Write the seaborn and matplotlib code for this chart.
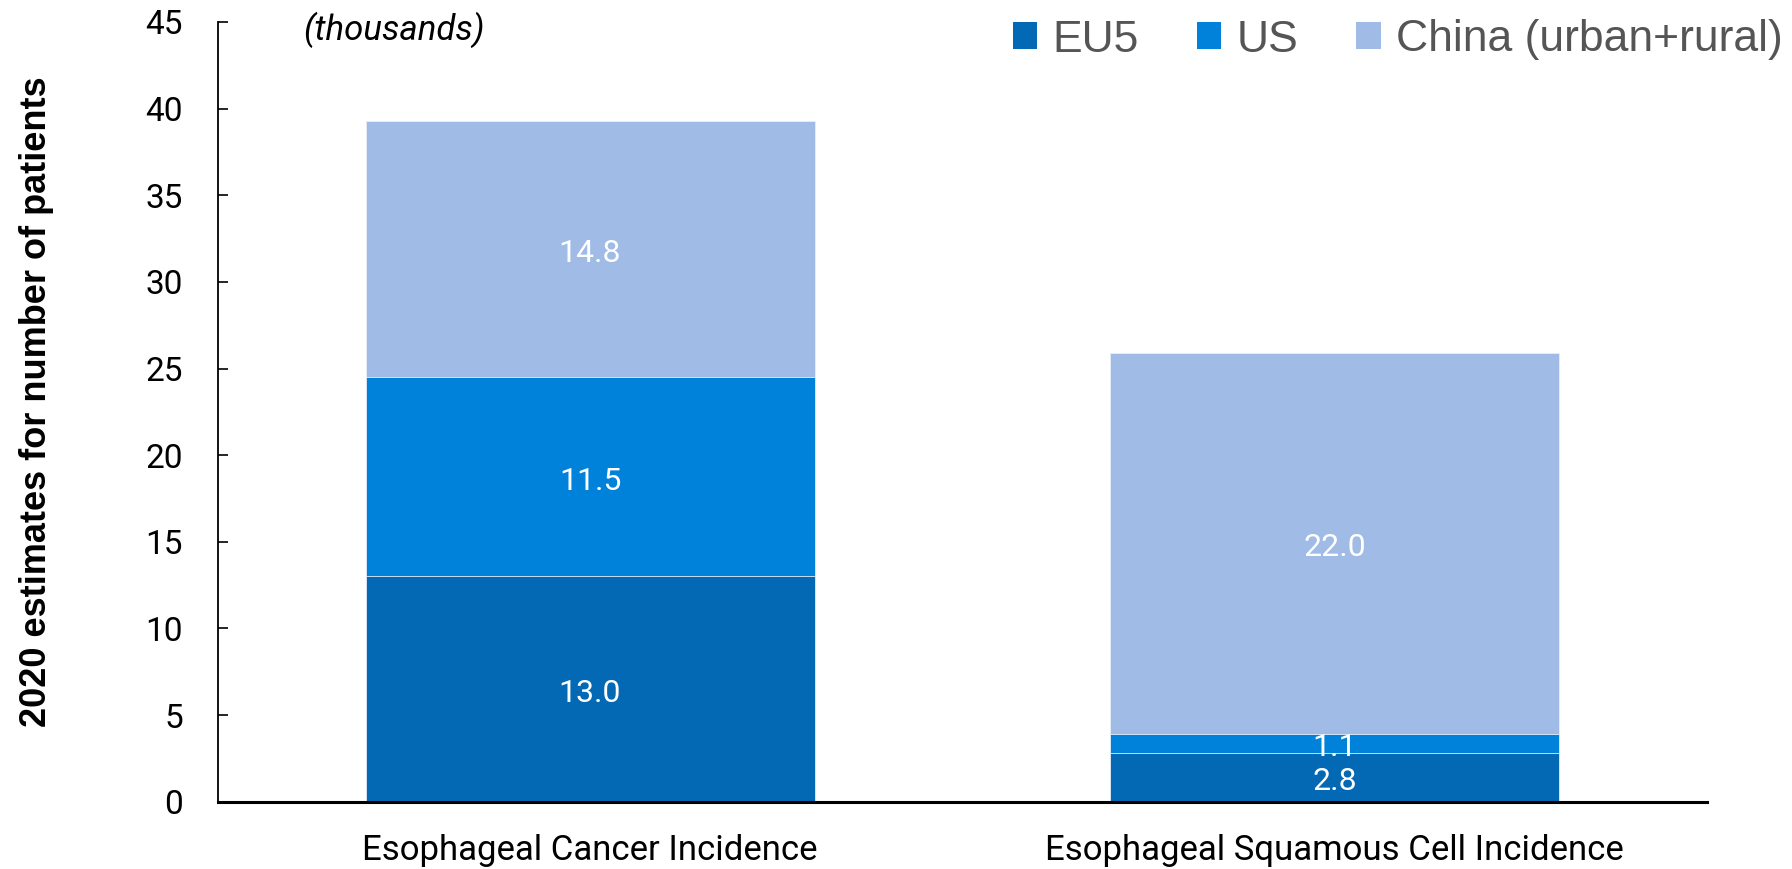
import matplotlib
matplotlib.use('Agg')
import matplotlib.pyplot as plt
import seaborn as sns
import pandas as pd
from matplotlib.patches import Patch

# ---- data ----
categories = ['Esophageal Cancer Incidence', 'Esophageal Squamous Cell Incidence']
series_names = ['EU5', 'US', 'China (urban+rural)']
eu5 = [13.0, 2.8]
us = [11.5, 1.1]
china = [14.8, 22.0]
y_ticks = [0, 5, 10, 15, 20, 25, 30, 35, 40, 45]
y_label = '2020 estimates for number of patients'
unit_note = '(thousands)'

# ---- style ----
series_colors = ['#0369B4', '#0082DA', '#A0BBE6']

sns.set_theme(style='white')
plt.rcParams['font.family'] = ['Roboto', 'DejaVu Sans']

fig = plt.figure(figsize=(17.92, 8.69), dpi=100)
ax = fig.add_axes([0.1215, 0.0774, 0.8311, 0.8973])

df = pd.DataFrame({'category': categories, 'EU5': eu5, 'US': us, 'China': china})
df['top_eu'] = df['EU5']
df['top_us'] = df['EU5'] + df['US']
df['top_china'] = df['top_us'] + df['China']

for col, color in zip(['top_china', 'top_us', 'top_eu'], series_colors[::-1]):
    sns.barplot(data=df, x='category', y=col, color=color, saturation=1,
                width=0.603, edgecolor='#e8eef8', linewidth=0.6, ax=ax, errorbar=None)

# value labels centred in each segment
bottoms = [0.0] * len(categories)
for values in [eu5, us, china]:
    for i, v in enumerate(values):
        ax.annotate(f'{v:.1f}', xy=(i, bottoms[i] + v / 2), xytext=(0, -3),
                    textcoords='offset points', ha='center', va='center',
                    color='white', fontsize=23)
        bottoms[i] += v

ax.set_xlim(-0.5, 1.5)
ax.set_ylim(0, 45)
ax.set_yticks(y_ticks)
ax.set_yticklabels([str(t) for t in y_ticks])
ax.tick_params(axis='y', direction='in', length=7.5, width=1.2, pad=25,
               labelsize=24, colors='black', left=True)
ax.tick_params(axis='x', length=0, pad=23, labelsize=25, colors='black')

for s in ['top', 'right']:
    ax.spines[s].set_visible(False)
for s in ['left', 'bottom']:
    ax.spines[s].set_color('black')
ax.spines['left'].set_linewidth(1.3)
ax.spines['bottom'].set_linewidth(2.2)

ax.set_xlabel('')
ax.set_ylabel(y_label, fontsize=26, fontweight='bold',
              family=['Liberation Sans', 'DejaVu Sans'], color='black')
ax.yaxis.set_label_coords(-0.11, 0.5125)

fig.text(303 / 1792, 1 - 30 / 869, unit_note, fontsize=25, style='italic',
         ha='left', va='center', color='black')

handles = [Patch(facecolor=c, edgecolor='none') for c in series_colors]
fig.legend(handles, series_names, loc='center right',
           bbox_to_anchor=(1783 / 1792, 1 - 40 / 869), ncol=3, frameon=False,
           prop={'family': ['Liberation Sans', 'DejaVu Sans'], 'size': 32},
           labelcolor='#555555', handlelength=0.55, handleheight=0.55,
           handletextpad=0.35, columnspacing=1.3, borderaxespad=0, borderpad=0)

fig.savefig('out.png', dpi=100, facecolor='white')
